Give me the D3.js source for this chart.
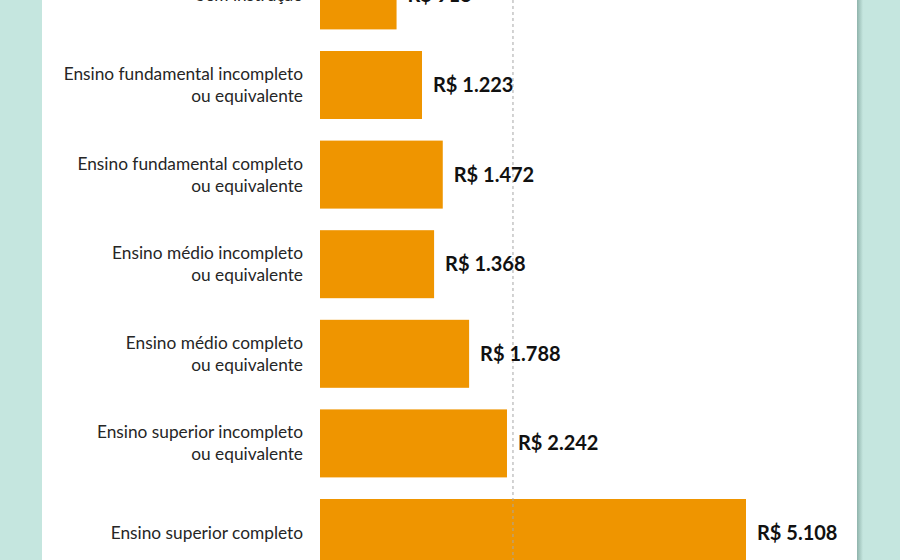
<!DOCTYPE html>
<html><head><meta charset="utf-8">
<script src="https://cdn.jsdelivr.net/npm/d3@7"></script>
<style>
html,body{margin:0;padding:0;background:#c5e6df;}
svg{display:block;}
</style></head>
<body>
<svg id="chart" width="900" height="560"></svg>
<script>
const categories = [
  ["Sem instrução"],
  ["Ensino fundamental incompleto", "ou equivalente"],
  ["Ensino fundamental completo", "ou equivalente"],
  ["Ensino médio incompleto", "ou equivalente"],
  ["Ensino médio completo", "ou equivalente"],
  ["Ensino superior incompleto", "ou equivalente"],
  ["Ensino superior completo"]
];
const values = [918, 1223, 1472, 1368, 1788, 2242, 5108];
const valueLabels = ["R$ 918", "R$ 1.223", "R$ 1.472", "R$ 1.368", "R$ 1.788", "R$ 2.242", "R$ 5.108"];
const referenceValue = 2314;

const svg = d3.select("#chart");
const W = 900, H = 560;

// background + panel
svg.append("rect").attr("width", W).attr("height", H).attr("fill", "#c5e6df");
const defs = svg.append("defs");
const g1 = defs.append("linearGradient").attr("id", "shadow").attr("x1", 0).attr("x2", 1);
g1.append("stop").attr("offset", 0).attr("stop-color", "#8fb3ab");
g1.append("stop").attr("offset", 1).attr("stop-color", "#c5e6df");
svg.append("rect").attr("x", 857).attr("y", 0).attr("width", 6).attr("height", H).attr("fill", "url(#shadow)");
svg.append("rect").attr("x", 42).attr("y", 0).attr("width", 815).attr("height", H).attr("fill", "#ffffff");

const x = d3.scaleLinear().domain([0, 5108]).range([320, 746]);
const step = 89.6, barH = 68;
const y = d3.scaleBand().domain(d3.range(values.length))
  .range([-38.6, -38.6 + step * 7 - (step - barH)])
  .paddingInner((step - barH) / step).paddingOuter(0);

// bars
svg.append("g").selectAll("rect").data(values).join("rect")
  .attr("x", x(0))
  .attr("y", (d, i) => y(i))
  .attr("width", d => x(d) - x(0))
  .attr("height", y.bandwidth())
  .attr("fill", "#ef9500");

// dashed reference line
svg.append("line")
  .attr("x1", x(referenceValue)).attr("x2", x(referenceValue))
  .attr("y1", 0).attr("y2", H)
  .attr("stroke", "#a6a6a6").attr("stroke-width", 1)
  .attr("stroke-dasharray", "3,3");

// category labels
const catG = svg.append("g").attr("font-family", "Lato, 'Open Sans', sans-serif").attr("font-size", 17.3).attr("fill", "#262626");
categories.forEach((lines, i) => {
  const cy = y(i) + y.bandwidth() / 2;
  const n = lines.length;
  lines.forEach((t, j) => {
    catG.append("text")
      .attr("x", 303)
      .attr("y", cy + (j - (n - 1) / 2) * 22)
      .attr("dy", "0.35em")
      .attr("text-anchor", "end")
      .text(t);
  });
});

// value labels
svg.append("g").selectAll("text").data(values).join("text")
  .attr("x", d => x(d) + 11)
  .attr("y", (d, i) => y(i) + y.bandwidth() / 2)
  .attr("dy", "0.35em")
  .attr("font-family", "Lato, 'Open Sans', sans-serif")
  .attr("font-weight", "bold")
  .attr("font-size", 20)
  .attr("fill", "#111")
  .text((d, i) => valueLabels[i]);
</script>
</body></html>
